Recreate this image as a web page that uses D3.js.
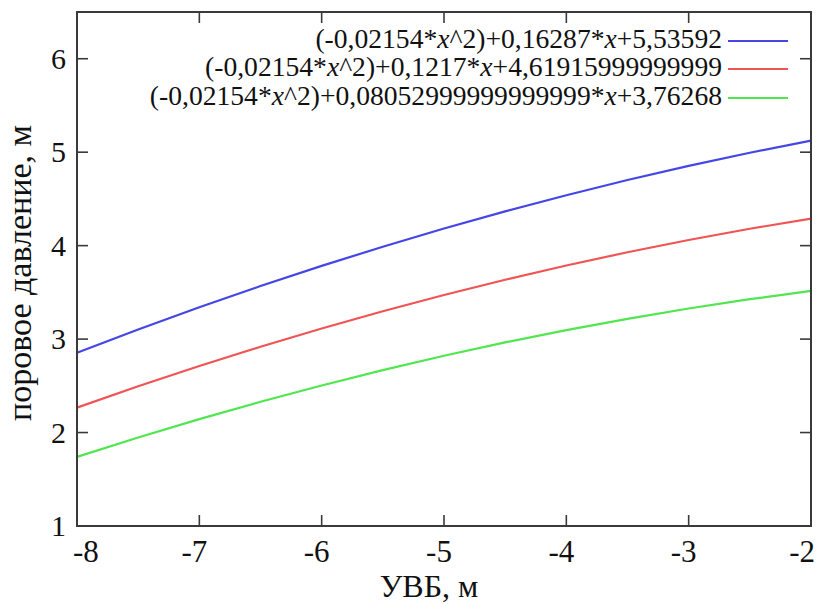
<!DOCTYPE html>
<html>
<head>
<meta charset="utf-8">
<script src="https://cdn.jsdelivr.net/npm/d3@7"></script>
<style>
  html, body { margin: 0; padding: 0; background: #fff; }
  svg { display: block; }
  text { font-family: "Liberation Serif", "Tinos", "Times New Roman", serif; fill: #111; }
</style>
</head>
<body>
<svg id="chart" width="818" height="604"></svg>
<script>
// ---- data ----
const xValues = [-8, -7.5, -7, -6.5, -6, -5.5, -5, -4.5, -4, -3.5, -3, -2.5, -2];
const blueValues  = [2.8544, 3.10277, 3.34037, 3.5672, 3.78326, 3.98855, 4.18307, 4.36682, 4.5398, 4.70201, 4.85345, 4.99412, 5.12402];
const redValues   = [2.267, 2.49479, 2.7118, 2.91805, 3.11352, 3.29823, 3.47216, 3.63533, 3.78772, 3.92935, 4.0602, 4.18029, 4.2896];
const greenValues = [1.73988, 1.94708, 2.14351, 2.32917, 2.50406, 2.66818, 2.82153, 2.96411, 3.09592, 3.21696, 3.32723, 3.42673, 3.51546];
const seriesLabels = [
  ["(-0,02154*", "x", "^2)+0,16287*", "x", "+5,53592"],
  ["(-0,02154*", "x", "^2)+0,1217*", "x", "+4,61915999999999"],
  ["(-0,02154*", "x", "^2)+0,08052999999999999*", "x", "+3,76268"]
];
const seriesColors = ["#4646e6", "#f05454", "#50e650"];
const xTicks = [-8, -7, -6, -5, -4, -3, -2];
const yTicks = [1, 2, 3, 4, 5, 6];
const xTitle = "УВБ, м";
const yTitle = "поровое давление, м";

// ---- layout ----
const svg = d3.select("#chart");
const mLeft = 77, mRight = 811, mTop = 12, mBottom = 526;
const x = d3.scaleLinear().domain([-8, -2]).range([mLeft, mRight]);
const y = d3.scaleLinear().domain([1, 6.5]).range([mBottom, mTop]);

const series = [blueValues, redValues, greenValues];

// curves
const line = d3.line().x(d => x(d[0])).y(d => y(d[1])).curve(d3.curveMonotoneX);
series.forEach((vals, i) => {
  svg.append("path")
    .datum(xValues.map((xv, j) => [xv, vals[j]]))
    .attr("d", line)
    .attr("fill", "none")
    .attr("stroke", seriesColors[i])
    .attr("stroke-width", 2.2);
});

// frame and ticks
const frameColor = "#3a3a3a";
const tickLen = 11;
const gTicks = svg.append("g").attr("stroke", frameColor).attr("stroke-width", 1.6);
xTicks.slice(1, -1).forEach(t => {
  gTicks.append("line").attr("x1", x(t)).attr("x2", x(t)).attr("y1", mBottom).attr("y2", mBottom - tickLen);
  gTicks.append("line").attr("x1", x(t)).attr("x2", x(t)).attr("y1", mTop).attr("y2", mTop + tickLen);
});
yTicks.slice(1).forEach(t => {
  gTicks.append("line").attr("y1", y(t)).attr("y2", y(t)).attr("x1", mLeft).attr("x2", mLeft + tickLen);
  gTicks.append("line").attr("y1", y(t)).attr("y2", y(t)).attr("x1", mRight).attr("x2", mRight - tickLen);
});
svg.append("rect")
  .attr("x", mLeft).attr("y", mTop)
  .attr("width", mRight - mLeft).attr("height", mBottom - mTop)
  .attr("fill", "none").attr("stroke", frameColor).attr("stroke-width", 2);

// tick labels
xTicks.forEach((t, i) => {
  let anchor = "middle", px = x(t) - 5;
  if (i === 0) { anchor = "start"; px = mLeft - 4; }
  if (i === xTicks.length - 1) { anchor = "end"; px = mRight + 4; }
  svg.append("text").attr("x", px).attr("y", 562)
    .attr("text-anchor", anchor).attr("font-size", 31)
    .text(t);
});
yTicks.forEach(t => {
  svg.append("text").attr("x", 66).attr("y", y(t) + 10)
    .attr("text-anchor", "end").attr("font-size", 30)
    .text(t);
});

// axis titles
svg.append("text").attr("x", 429).attr("y", 597)
  .attr("text-anchor", "middle").attr("font-size", 32)
  .text(xTitle);
svg.append("text")
  .attr("transform", "translate(31,273) rotate(-90)")
  .attr("text-anchor", "middle").attr("font-size", 34)
  .text(yTitle);

// legend
const legY = [41, 69, 98];
seriesLabels.forEach((parts, i) => {
  const t = svg.append("text").attr("x", 722).attr("y", legY[i] + 7)
    .attr("text-anchor", "end").attr("font-size", 27.6);
  parts.forEach((p, k) => {
    t.append("tspan").attr("font-style", p === "x" ? "italic" : null).text(p);
  });
  svg.append("line").attr("x1", 728).attr("x2", 788)
    .attr("y1", legY[i]).attr("y2", legY[i])
    .attr("stroke", seriesColors[i]).attr("stroke-width", 2.2);
});
</script>
</body>
</html>
